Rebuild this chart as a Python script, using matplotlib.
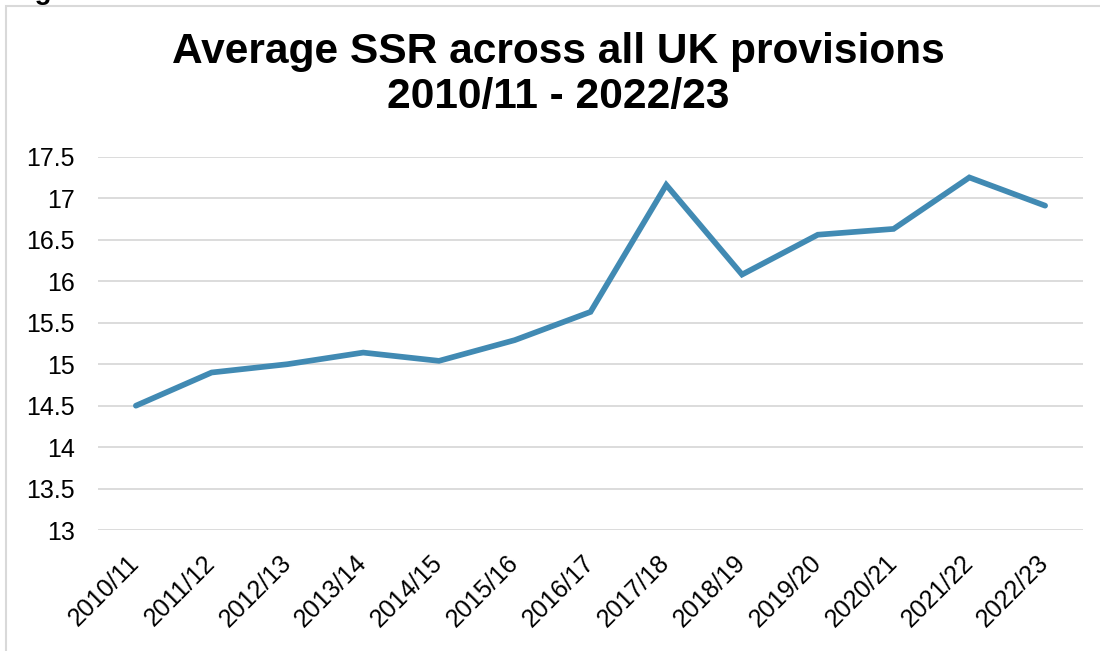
import matplotlib
matplotlib.use('Agg')
import matplotlib.pyplot as plt
from matplotlib.patches import Rectangle

plt.rcParams['font.family'] = ['Liberation Sans', 'DejaVu Sans']

years = ['2010/11', '2011/12', '2012/13', '2013/14', '2014/15', '2015/16', '2016/17',
         '2017/18', '2018/19', '2019/20', '2020/21', '2021/22', '2022/23']
avg_ssr = [14.50, 14.90, 15.00, 15.14, 15.04, 15.29, 15.63,
           17.16, 16.08, 16.56, 16.63, 17.25, 16.91]
y_ticks = [13, 13.5, 14, 14.5, 15, 15.5, 16, 16.5, 17, 17.5]
y_tick_labels = ['13', '13.5', '14', '14.5', '15', '15.5', '16', '16.5', '17', '17.5']

W, H = 1100, 651
fig = plt.figure(figsize=(W / 100, H / 100), dpi=100)
fig.patch.set_facecolor('white')

# chart border (runs off the right and bottom edges)
fig.patches.append(Rectangle((6 / W, -0.05), 1.2, 1 - 6 / H + 0.05,
                             transform=fig.transFigure, fill=False,
                             edgecolor='#D9D9D9', linewidth=1.5))

# caption from the page above, mostly cut off
fig.text(10 / W, 1 + 1 / H, 'Figure', fontsize=20, fontweight='bold',
         ha='left', va='baseline')

ax = fig.add_axes([98 / W, 1 - 530.2 / H, (1083 - 98) / W, (530.2 - 156.7) / H])
x = list(range(len(years)))
ax.plot(x, avg_ssr, color='#418AB3', linewidth=4.1, solid_joinstyle='miter',
        solid_capstyle='round', zorder=3)

ax.set_xlim(-0.5, len(years) - 0.5)
ax.set_ylim(13, 17.5)
ax.set_yticks(y_ticks)
ax.set_yticklabels(y_tick_labels)
ax.set_xticks(x)
ax.set_xticklabels(years, rotation=45, ha='right', va='center',
                   rotation_mode='anchor')

ax.grid(axis='y', color='#D9D9D9', linewidth=1.3)
ax.set_axisbelow(True)
for s in ax.spines.values():
    s.set_visible(False)
ax.tick_params(axis='both', length=0, labelsize=18, colors='black')
ax.tick_params(axis='y', pad=16.5)
ax.tick_params(axis='x', pad=21)

fig.text(558 / W, 1 - 52 / H, 'Average SSR across all UK provisions',
         fontsize=30.6, fontweight='bold', ha='center', va='center')
fig.text(558 / W, 1 - 97 / H, '2010/11 - 2022/23',
         fontsize=30.6, fontweight='bold', ha='center', va='center')

fig.savefig('out.png', dpi=100)
